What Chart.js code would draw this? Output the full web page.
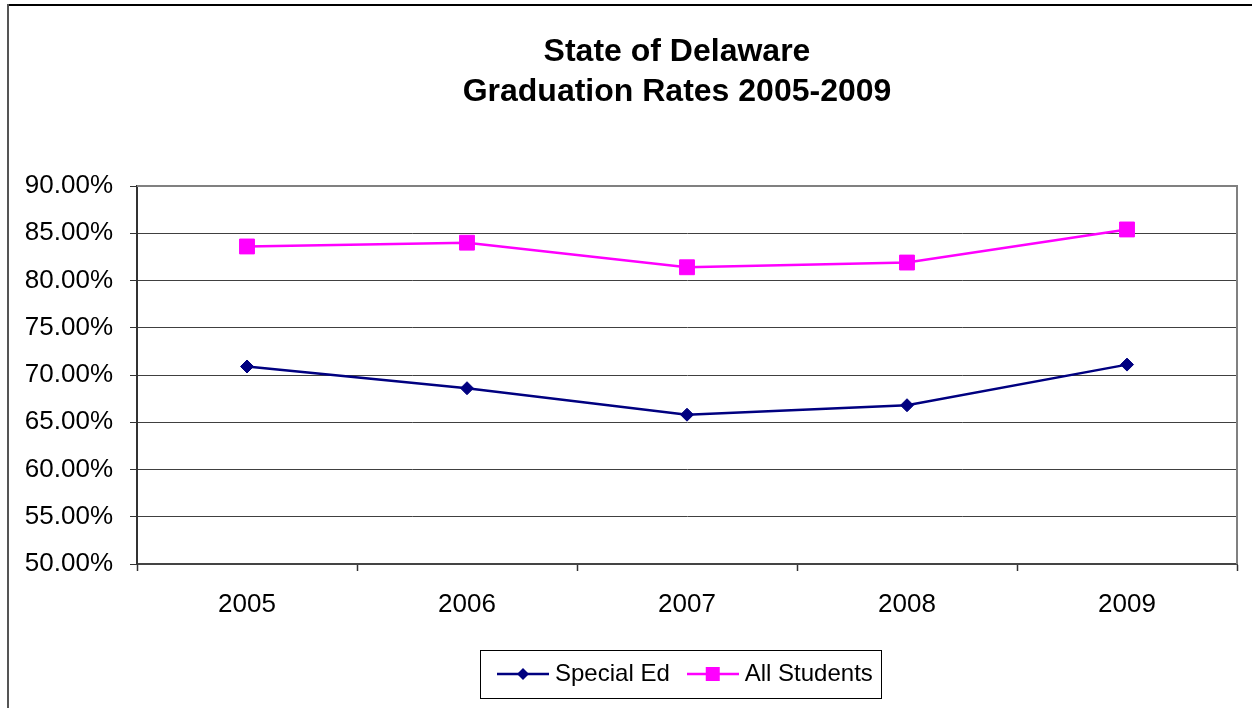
<!DOCTYPE html>
<html lang="en">
<head>
    <meta charset="UTF-8">
    <title>State of Delaware Graduation Rates 2005-2009</title>
    <script src="https://cdn.jsdelivr.net/npm/chart.js@4.4.0/dist/chart.umd.min.js"></script>
    <style>
        body {
            margin: 0;
            background: #ffffff;
            font-family: "Liberation Sans", Arial, sans-serif;
        }
        .wrap {
            position: relative;
            width: 1252px;
            height: 708px;
            overflow: hidden;
        }
        .edge-top {
            position: absolute;
            left: 7px;
            top: 4px;
            width: 1245px;
            height: 2px;
            background: #000;
        }
        .edge-left {
            position: absolute;
            left: 7px;
            top: 4px;
            width: 2px;
            height: 704px;
            background: #555;
        }
        canvas { position: absolute; left: 0; top: 0; }
    </style>
</head>
<body>
    <div class="wrap">
        <canvas id="gradChart" width="1252" height="708"></canvas>
        <div class="edge-top"></div>
        <div class="edge-left"></div>
    </div>

    <script>
        // values (percent)
        const years = ['2005', '2006', '2007', '2008', '2009'];
        const specialEd = [70.9, 68.6, 65.8, 66.8, 71.1];
        const allStudents = [83.6, 84.0, 81.4, 81.9, 85.4];
        const yMin = 50;
        const yMax = 90;
        const yStep = 5;

        const FONT = '"Liberation Sans", Arial, sans-serif';
        const NAVY = '#000080';
        const PINK = '#ff00ff';

        // little line+marker icons for the legend, like Excel draws them
        function legendIcon(color, shape) {
            const c = document.createElement('canvas');
            c.width = 52;
            c.height = 18;
            const g = c.getContext('2d');
            g.strokeStyle = color;
            g.lineWidth = 2.5;
            g.beginPath();
            g.moveTo(0, 9);
            g.lineTo(52, 9);
            g.stroke();
            g.fillStyle = color;
            if (shape === 'diamond') {
                g.beginPath();
                g.moveTo(26, 3);
                g.lineTo(32, 9);
                g.lineTo(26, 15);
                g.lineTo(20, 9);
                g.closePath();
                g.fill();
            } else {
                g.fillRect(19, 2, 14, 14);
            }
            return c;
        }
        const icons = [legendIcon(NAVY, 'diamond'), legendIcon(PINK, 'square')];

        // gray frame on top/right of the plot area
        const plotFrame = {
            id: 'plotFrame',
            beforeDatasetsDraw(chart) {
                const {ctx, chartArea: a} = chart;
                ctx.save();
                ctx.strokeStyle = '#808080';
                ctx.lineWidth = 2;
                ctx.beginPath();
                ctx.moveTo(a.left, a.top);
                ctx.lineTo(a.right, a.top);
                ctx.lineTo(a.right, a.bottom);
                ctx.stroke();
                ctx.restore();
            }
        };

        // title and legend sit a bit right of the canvas centre in the original
        const placeBlocks = {
            id: 'placeBlocks',
            afterLayout(chart) {
                const t = chart.titleBlock;
                const tShift = 677 - (t.left + t.right) / 2;
                t.left += tShift;
                t.right += tShift;

                const lg = chart.legend;
                const pad = lg.options.labels.padding;
                const lw = lg.lineWidths ? lg.lineWidths[0] : 0;
                const start = (lg.left + pad + lg.right - lw) / 2;
                const shift = 503 - start;
                lg.left += shift;
                lg.right += shift;
            },
            afterDraw(chart) {
                const hb = chart.legend.legendHitBoxes;
                if (!hb || !hb.length) return;
                const first = hb[0];
                const last = hb[hb.length - 1];
                const left = Math.round(first.left - 23);
                const right = Math.round(last.left + last.width + 8);
                const ctx = chart.ctx;
                ctx.save();
                ctx.strokeStyle = '#000';
                ctx.lineWidth = 1;
                ctx.strokeRect(left + 0.5, Math.round(first.top - 12) + 0.5,
                    right - left, Math.round(first.height + 24));
                ctx.restore();
            }
        };

        const ctx = document.getElementById('gradChart').getContext('2d');
        const gradChart = new Chart(ctx, {
            type: 'line',
            data: {
                labels: years,
                datasets: [
                    {
                        label: 'Special Ed',
                        data: specialEd,
                        borderColor: NAVY,
                        backgroundColor: NAVY,
                        borderWidth: 2.5,
                        pointStyle: 'rectRot',
                        pointRadius: 6.5,
                        pointBorderWidth: 1,
                        tension: 0
                    },
                    {
                        label: 'All Students',
                        data: allStudents,
                        borderColor: PINK,
                        backgroundColor: PINK,
                        borderWidth: 2.5,
                        pointStyle: 'rect',
                        pointRadius: 10.5,
                        pointBorderWidth: 1,
                        tension: 0
                    }
                ]
            },
            options: {
                responsive: false,
                animation: false,
                devicePixelRatio: 1,
                layout: {
                    padding: {left: 10, right: 15, top: 0, bottom: 12}
                },
                plugins: {
                    tooltip: {enabled: false},
                    title: {
                        display: true,
                        text: ['State of Delaware', 'Graduation Rates 2005-2009'],
                        color: '#000',
                        font: {family: FONT, size: 32, weight: 'bold', lineHeight: 40 / 32},
                        padding: {top: 32, bottom: 74}
                    },
                    legend: {
                        position: 'bottom',
                        labels: {
                            color: '#000',
                            font: {family: FONT, size: 24},
                            usePointStyle: true,
                            pointStyleWidth: 40,
                            padding: 23,
                            generateLabels(chart) {
                                const items = Chart.defaults.plugins.legend.labels.generateLabels(chart);
                                items.forEach((it, i) => { it.pointStyle = icons[i]; });
                                return items;
                            }
                        }
                    }
                },
                scales: {
                    x: {
                        offset: true,
                        grid: {
                            offset: true,
                            drawOnChartArea: false,
                            tickLength: 7,
                            tickColor: '#333',
                            tickWidth: 1.5
                        },
                        border: {color: '#444', width: 2},
                        ticks: {
                            color: '#000',
                            font: {family: FONT, size: 26},
                            padding: 18,
                            maxRotation: 0
                        },
                        afterFit(scale) { scale.height = 75; }
                    },
                    y: {
                        min: yMin,
                        max: yMax,
                        grid: {
                            color: '#404040',
                            lineWidth: 1,
                            tickLength: 7,
                            tickColor: '#333'
                        },
                        border: {color: '#333', width: 2},
                        ticks: {
                            stepSize: yStep,
                            color: '#000',
                            font: {family: FONT, size: 26},
                            padding: 17,
                            callback: v => v.toFixed(2) + '%'
                        },
                        afterFit(scale) { scale.width = 127; }
                    }
                }
            },
            plugins: [plotFrame, placeBlocks]
        });
    </script>
</body>
</html>
